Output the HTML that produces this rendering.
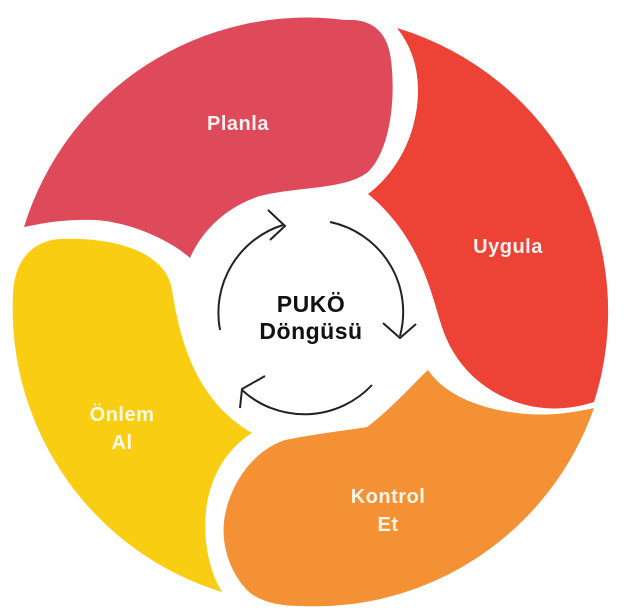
<!DOCTYPE html>
<html><head><meta charset="utf-8"><style>
html,body{margin:0;padding:0;background:#fff;}
svg{display:block;}
text{font-family:"Liberation Sans",sans-serif;font-weight:bold;text-anchor:middle;}
</style></head><body>
<svg width="631" height="613" viewBox="0 0 631 613" xmlns="http://www.w3.org/2000/svg">
<path fill="#DE4A59" d="M24,227 A296 296 0 0 1 345,20 C375,18 388,35 391,60 C396,100 390,150 368,172 C345,190 300,186 260,196 C222,208 200,235 190,258 C170,240 130,222 95,220 C60,219 40,224 24,227 Z"/>
<path fill="#EC4336" d="M397,28 A296 296 0 0 1 594,402 C570,410 545,410 526,405 C490,396 455,370 441,324 C430,288 418,235 368,194 C400,170 418,130 418,90 C418,62 408,42 397,28 Z"/>
<path fill="#F39134" d="M594,408 A296 296 0 0 1 300,606 C275,606 257,600 247,590 C228,570 220,540 225,515 C232,480 255,450 285,440 C320,433 350,430 367,427 C390,410 412,385 428,370 C445,395 480,410 526,414 C555,416 575,412 594,408 Z"/>
<path fill="#F9CD12" d="M222,592 A296 296 0 0 1 13,295 C14,258 35,240 61,239 C110,237 166,250 172,290 C180,340 195,400 252,433 C225,450 210,478 206,510 C203,545 210,572 222,592 Z"/>
<g fill="none" stroke="#222" stroke-width="2">
<path d="M220,330 A92 92 0 0 1 283,225"/>
<path d="M268,210 L285,226 L270,240"/>
<path d="M330,222 A92 92 0 0 1 400,336"/>
<path d="M383,323 L400,338 L416,324"/>
<path d="M372,385 A92 92 0 0 1 242,390"/>
<path d="M265,376 L242,389 L240,408"/>
</g>
<text x="311" y="312" font-size="23" fill="#111" letter-spacing="0.5">PUKÖ</text>
<text x="311" y="339" font-size="23" fill="#111" letter-spacing="0.5">Döngüsü</text>
<text x="238" y="130" font-size="20" fill="#fdf0f0" letter-spacing="0.5">Planla</text>
<text x="508" y="253" font-size="20" fill="#fdf0f0" letter-spacing="0.5">Uygula</text>
<text x="122" y="421" font-size="20" fill="#fffbe8" letter-spacing="0.5">Önlem</text>
<text x="122" y="449" font-size="20" fill="#fffbe8" letter-spacing="0.5">Al</text>
<text x="388" y="503" font-size="20" fill="#fff5ea" letter-spacing="0.5">Kontrol</text>
<text x="388" y="531" font-size="20" fill="#fff5ea" letter-spacing="0.5">Et</text>
</svg>
</body></html>
